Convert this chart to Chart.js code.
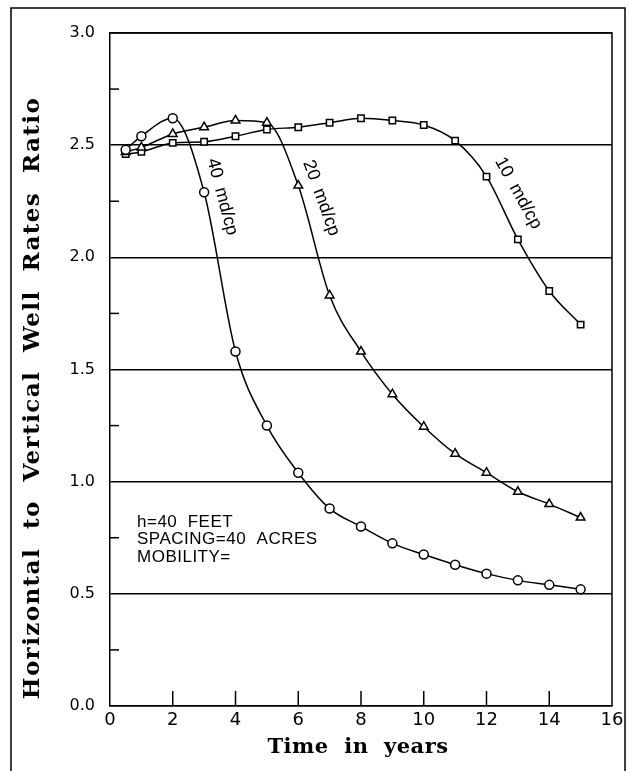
<!DOCTYPE html>
<html>
<head>
<meta charset="utf-8">
<script src="https://cdn.jsdelivr.net/npm/chart.js@4/dist/chart.umd.min.js"></script>
<style>
  html, body { margin: 0; padding: 0; background: #fff; }
  #wrap { width: 629px; height: 771px; position: relative; }
</style>
</head>
<body>
<div id="wrap"><canvas id="ratio"></canvas></div>
<script>
// time in years
const years = [0.5, 1, 2, 3, 4, 5, 6, 7, 8, 9, 10, 11, 12, 13, 14, 15];
// horizontal / vertical rate ratio
const mob40 = [2.48, 2.54, 2.62, 2.29, 1.58, 1.25, 1.04, 0.88, 0.80, 0.725, 0.675, 0.63, 0.59, 0.56, 0.54, 0.52];
const mob20 = [2.47, 2.49, 2.55, 2.58, 2.61, 2.60, 2.32, 1.83, 1.58, 1.39, 1.245, 1.125, 1.04, 0.955, 0.90, 0.84];
const mob10 = [2.46, 2.47, 2.51, 2.515, 2.54, 2.57, 2.58, 2.60, 2.62, 2.61, 2.59, 2.52, 2.36, 2.08, 1.85, 1.70];

const curveLabels = [
  { text: '40  md/cp', x: 3.25, y: 2.44, angle: 75 },
  { text: '20  md/cp', x: 6.3, y: 2.43, angle: 70 },
  { text: '10  md/cp', x: 12.4, y: 2.44, angle: 61 }
];
const noteLines = ['h=40  FEET', 'SPACING=40  ACRES', 'MOBILITY='];

const toXY = (vals) => years.map((t, i) => ({ x: t, y: vals[i] }));

function series(label, vals, style) {
  return {
    label: label,
    data: toXY(vals),
    borderColor: '#000',
    borderWidth: 1.5,
    backgroundColor: '#fff',
    pointStyle: style,
    pointRadius: style === 'triangle' ? 5 : 4.5,
    pointBorderWidth: 1.5,
    pointBackgroundColor: '#fff',
    pointBorderColor: '#000',
    cubicInterpolationMode: 'monotone',
    fill: false
  };
}

const extras = {
  id: 'extras',
  beforeDraw(chart) {
    const c = chart.ctx;
    c.save();
    c.fillStyle = '#fff';
    c.fillRect(0, 0, chart.width, chart.height);
    // outer frame of the figure
    c.strokeStyle = '#000';
    c.lineWidth = 1.5;
    c.strokeRect(11, 8, 614, 790);
    c.restore();
  },
  afterDatasetsDraw(chart) {
    const c = chart.ctx;
    const a = chart.chartArea;
    const xs = chart.scales.x, ys = chart.scales.y;
    c.save();
    c.strokeStyle = '#000';
    c.lineWidth = 1.5;
    // top & right of the plot box
    c.beginPath();
    c.moveTo(a.left, a.top); c.lineTo(a.right, a.top); c.lineTo(a.right, a.bottom);
    c.stroke();
    // inward ticks on x
    xs.ticks.forEach(t => {
      if (t.value <= 0 || t.value >= 16) return;
      const px = xs.getPixelForValue(t.value);
      c.beginPath(); c.moveTo(px, a.bottom); c.lineTo(px, a.bottom - 15); c.stroke();
    });
    // minor ticks on y
    for (let v = 0.25; v < 3; v += 0.5) {
      const py = ys.getPixelForValue(v);
      c.beginPath(); c.moveTo(a.left, py); c.lineTo(a.left + 9, py); c.stroke();
    }
    // curve labels
    c.fillStyle = '#000';
    c.font = '18px "Liberation Sans", Arial, sans-serif';
    c.textBaseline = 'middle';
    c.textAlign = 'left';
    curveLabels.forEach(l => {
      c.save();
      c.translate(xs.getPixelForValue(l.x), ys.getPixelForValue(l.y));
      c.rotate(l.angle * Math.PI / 180);
      c.fillText(l.text, 0, 0);
      c.restore();
    });
    // note block
    c.font = '17px "Liberation Sans", Arial, sans-serif';
    c.letterSpacing = '0.5px';
    noteLines.forEach((s, i) => c.fillText(s, 137, 522 + i * 17.5));
    // axis titles
    c.font = 'bold 21px "DejaVu Serif", serif';
    c.letterSpacing = '0.5px';
    c.textAlign = 'center';
    c.fillText('Time  in  years', (a.left + a.right) / 2 - 3, 748);
    c.font = 'bold 23px "DejaVu Serif", serif';
    c.letterSpacing = '1.4px';
    c.save();
    c.translate(33, 398);
    c.rotate(-Math.PI / 2);
    c.fillText('Horizontal  to  Vertical  Well  Rates  Ratio', 0, 0);
    c.restore();
    c.restore();
  }
};

new Chart(document.getElementById('ratio'), {
  type: 'line',
  data: {
    datasets: [
      series('40 md/cp', mob40, 'circle'),
      series('20 md/cp', mob20, 'triangle'),
      series('10 md/cp', mob10, 'rect')
    ]
  },
  options: {
    responsive: true,
    maintainAspectRatio: false,
    animation: false,
    layout: { padding: { left: 0, right: 17, top: 33, bottom: 0 } },
    plugins: { legend: { display: false }, tooltip: { enabled: false } },
    scales: {
      x: {
        type: 'linear',
        min: 0, max: 16,
        afterFit(s) { s.height = 65; },
        ticks: { stepSize: 2, color: '#000', padding: 4, font: { size: 18, family: '"DejaVu Sans", sans-serif' } },
        grid: { display: false, drawTicks: false },
        border: { color: '#000', width: 1.5 }
      },
      y: {
        min: 0, max: 3,
        afterFit(s) { s.width = 110; },
        ticks: {
          stepSize: 0.5, color: '#000', padding: 15,
          font: { size: 16, family: '"DejaVu Sans", sans-serif' },
          callback: v => v.toFixed(1)
        },
        grid: { color: '#000', lineWidth: 1.5, drawTicks: false },
        border: { color: '#000', width: 1.5 }
      }
    }
  },
  plugins: [extras]
});
</script>
</body>
</html>
